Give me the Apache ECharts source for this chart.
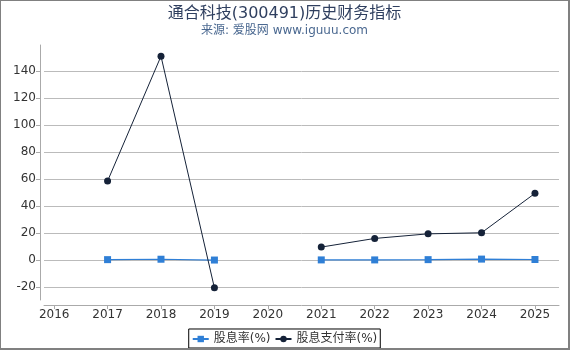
<!DOCTYPE html>
<html>
<head>
<meta charset="utf-8">
<script src="https://cdn.jsdelivr.net/npm/echarts@6/dist/echarts.min.js"></script>
<style>
html,body{margin:0;padding:0;background:#fff;}
#c{position:absolute;left:0;top:0;width:570px;height:350px;box-sizing:border-box;border-style:solid;border-color:#808080;border-width:1px 2px 2px 1px;}
</style>
</head>
<body>
<div id="c"></div>
<script>
const titleText = '通合科技(300491)历史财务指标';
const subtitleText = '来源: 爱股网 www.iguuu.com';
const years = [2017, 2018, 2019, 2020, 2021, 2022, 2023, 2024, 2025];
const xTicks = [2016, 2017, 2018, 2019, 2020, 2021, 2022, 2023, 2024, 2025];
const yTicks = [-20, 0, 20, 40, 60, 80, 100, 120, 140];
const dividendYield = [0.3, 0.6, 0.0, null, 0.1, 0.1, 0.3, 0.7, 0.4];
const payoutRatio = [58.5, 151, -20.6, null, 9.6, 16, 19.4, 20.2, 49.4];
const seriesNames = ['股息率(%)', '股息支付率(%)'];

const font = 'DejaVu Sans, "Noto Sans CJK SC", sans-serif';
const chart = echarts.init(document.getElementById('c'), null, {renderer: 'canvas'});
chart.setOption({
  animation: false,
  title: [
    {text: titleText, left: 'center', top: 0, textStyle: {fontFamily: font, fontSize: 16, fontWeight: 'normal', color: '#2f3f5f'}},
    {text: subtitleText, left: 'center', top: 19, textStyle: {fontFamily: font, fontSize: 12, fontWeight: 'normal', color: '#4a6890'}}
  ],
  grid: {left: 43, right: 9, top: 44, bottom: 48, containLabel: false},
  legend: {
    bottom: 0, left: 'center',
    data: seriesNames,
    borderColor: '#000', borderWidth: 1, borderRadius: 0,
    padding: [4, 3, 3, 3], itemGap: 4, itemWidth: 16, itemHeight: 8,
    textStyle: {fontFamily: font, fontSize: 12, color: '#333'}
  },
  xAxis: {
    type: 'value', min: 2015.81, max: 2025.45, offset: 5,
    axisLine: {show: true, onZero: false, lineStyle: {color: '#aaa'}},
    axisTick: {show: true, length: 4, lineStyle: {color: '#aaa'}, customValues: xTicks},
    axisLabel: {customValues: xTicks, fontFamily: font, fontSize: 12, color: '#333', margin: 4, formatter: v => String(v)},
    splitLine: {show: false}
  },
  yAxis: {
    type: 'value', min: -29.6, max: 159.3, offset: 4,
    axisLine: {show: true, onZero: false, lineStyle: {color: '#aaa'}},
    axisTick: {show: true, length: 4, lineStyle: {color: '#aaa'}, customValues: yTicks},
    axisLabel: {customValues: yTicks, fontFamily: font, fontSize: 12, color: '#333', margin: 4},
    splitLine: {show: true, lineStyle: {color: '#bbb', width: 1}}
  },
  series: [
    {
      name: seriesNames[0], type: 'line',
      data: years.map((y, i) => [y, dividendYield[i]]),
      connectNulls: false,
      symbol: 'rect', symbolSize: 7, showSymbol: true,
      itemStyle: {color: '#2f7fd6'},
      lineStyle: {color: '#2f7fd6', width: 1.2},
      z: 3
    },
    {
      name: seriesNames[1], type: 'line',
      data: years.map((y, i) => [y, payoutRatio[i]]),
      connectNulls: false,
      symbol: 'circle', symbolSize: 7, showSymbol: true,
      itemStyle: {color: '#152238'},
      lineStyle: {color: '#152238', width: 1},
      z: 4
    }
  ]
});
</script>
</body>
</html>
